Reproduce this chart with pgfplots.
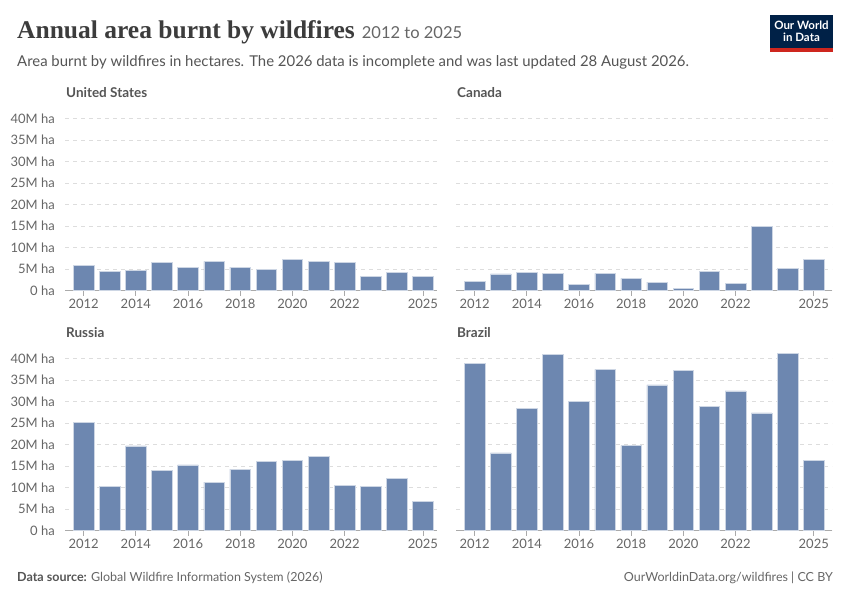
\documentclass[border=0pt]{standalone}
\usepackage{fontspec}
\setmainfont{Lato}
\newfontfamily\titlefont{Liberation Serif}
\usepackage{pgfplots}
\pgfplotsset{compat=1.18}
\definecolor{barc}{RGB}{109,135,176}
\definecolor{barline}{RGB}{205,214,228}
\definecolor{gridc}{RGB}{221,221,221}
\definecolor{axisc}{RGB}{170,170,170}
\definecolor{tickc}{RGB}{102,102,102}
\definecolor{titlec}{RGB}{60,60,60}
\definecolor{subc}{RGB}{85,85,85}
\definecolor{navy}{RGB}{0,33,71}
\definecolor{owidred}{RGB}{206,38,30}
\pgfplotsset{
 panel/.style={
  scale only axis, height=180.6pt,
  ymin=0, ymax=42,
  ytick={0,5,...,40},
  xtick={2012,2014,2016,2018,2020,2022,2025},
  xticklabels={2012,2014,2016,2018,2020,2022,2025},
  axis lines*=left,
  ymajorgrids, grid style={gridc, dash pattern=on 4pt off 4pt, line width=0.8pt},
  x axis line style={axisc, line width=1.3pt, -},
  y axis line style={draw=none},
  xtick style={axisc, line width=0.8pt},
  ytick style={draw=none},
  major tick length=5pt, tick align=outside,
  ticklabel style={font=\fontsize{13}{13}\selectfont, text=tickc},
  yticklabel style={inner sep=0pt, xshift=-5pt},
  enlargelimits=false, clip=false,
  bar shift=0pt, bar width=0.79,
 },
 leftpanel/.style={panel, width=372pt, xmin=2011.287, xmax=2025.54,
  yticklabels={0 ha,5M ha,10M ha,15M ha,20M ha,25M ha,30M ha,35M ha,40M ha}},
 rightpanel/.style={panel, width=376pt, xmin=2011.283, xmax=2025.70, yticklabels={}},
 barsty/.style={ybar, fill=barc, draw=barline, line width=0.6pt},
}
\begin{document}
\begin{tikzpicture}
\fill[white] (0pt,0pt) rectangle (850pt,600pt);
% titles
\node[anchor=base west, inner sep=0] at (17pt,561pt) {{\titlefont\bfseries\fontsize{25.5}{25.5}\selectfont\color{titlec}Annual area burnt by wildfires}\hspace{7pt}{\fontsize{16.5}{16.5}\selectfont\color{tickc}2012 to 2025}};
\node[anchor=base west, inner sep=0] at (17pt,533.3pt) {\fontsize{14.9}{14.9}\selectfont\color{subc}Area burnt by wildfires in hectares. The 2026 data is incomplete and was last updated 28 August 2026.};
% logo
\fill[navy] (770pt,548pt) rectangle (833pt,585pt);
\fill[owidred] (770pt,548pt) rectangle (833pt,551.5pt);
\node[align=center, text=white, inner sep=0, font=\fontsize{11.5}{12}\selectfont\bfseries] at (801.5pt,568.5pt) {Our World\\in Data};
% panel titles
\node[anchor=base west, inner sep=0, font=\fontsize{13.5}{13.5}\selectfont\bfseries, text=subc] at (66pt,502pt) {United States};
\node[anchor=base west, inner sep=0, font=\fontsize{13.5}{13.5}\selectfont\bfseries, text=subc] at (457pt,502pt) {Canada};
\node[anchor=base west, inner sep=0, font=\fontsize{13.5}{13.5}\selectfont\bfseries, text=subc] at (66pt,262pt) {Russia};
\node[anchor=base west, inner sep=0, font=\fontsize{13.5}{13.5}\selectfont\bfseries, text=subc] at (457pt,262pt) {Brazil};
% footer
\node[anchor=base west, inner sep=0, font=\fontsize{12.5}{12.5}\selectfont, text=tickc] at (17pt,19pt) {{\bfseries\color{subc}Data source:} Global Wildfire Information System (2026)};
\node[anchor=base east, inner sep=0, font=\fontsize{12.5}{12.5}\selectfont, text=tickc] at (833pt,19pt) {OurWorldinData.org/wildfires | CC BY};
% United States
\begin{axis}[leftpanel, at={(65pt,309.3pt)}, anchor=south west]
\addplot[barsty] coordinates {(2012,5.97) (2013,4.5) (2014,4.65) (2015,6.6) (2016,5.5) (2017,6.8) (2018,5.5) (2019,5.04) (2020,7.3) (2021,6.74) (2022,6.5) (2023,3.33) (2024,4.34) (2025,3.26)};
\end{axis}
% Canada
\begin{axis}[rightpanel, at={(456pt,309.3pt)}, anchor=south west]
\addplot[barsty] coordinates {(2012,2.1) (2013,3.9) (2014,4.34) (2015,4.0) (2016,1.55) (2017,4.0) (2018,2.87) (2019,2.0) (2020,0.54) (2021,4.4) (2022,1.7) (2023,14.9) (2024,5.1) (2025,7.36)};
\end{axis}
% Russia
\begin{axis}[leftpanel, at={(65pt,69.3pt)}, anchor=south west]
\addplot[barsty] coordinates {(2012,25.2) (2013,10.3) (2014,19.7) (2015,14.1) (2016,15.3) (2017,11.3) (2018,14.3) (2019,16.1) (2020,16.4) (2021,17.3) (2022,10.5) (2023,10.3) (2024,12.2) (2025,6.9)};
\end{axis}
% Brazil
\begin{axis}[rightpanel, at={(456pt,69.3pt)}, anchor=south west]
\addplot[barsty] coordinates {(2012,39.0) (2013,18.1) (2014,28.5) (2015,41.0) (2016,30.1) (2017,37.5) (2018,19.8) (2019,33.9) (2020,37.3) (2021,29.0) (2022,32.5) (2023,27.4) (2024,41.2) (2025,16.3)};
\end{axis}
\end{tikzpicture}
\end{document}
